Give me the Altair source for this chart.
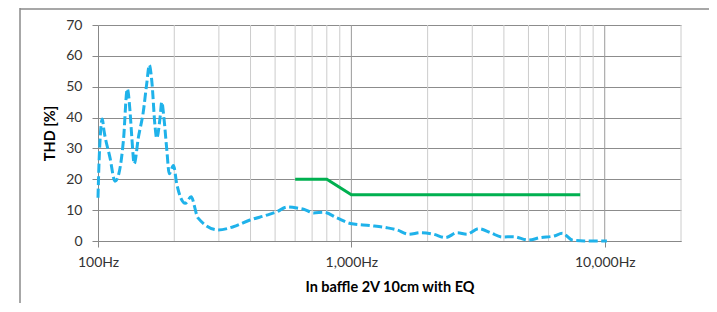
import altair as alt
import pandas as pd

# ---- data ----
blue_freq = [100, 101, 104, 105.5, 111.5, 116.7, 121, 126, 130.5, 133.8, 136, 139, 144.3,
             151, 155.7, 159.5, 163, 168, 170.5, 175.8, 178.5, 182, 187, 191, 198.5, 204.6,
             221, 233, 248, 298, 342, 398, 464, 509, 557, 610, 648, 710, 779, 877, 990,
             1190, 1380, 1513, 1684, 1880, 2110, 2354, 2620, 2853, 3180, 3540, 3940, 4360,
             5000, 5560, 6300, 6800, 7450, 8300, 10200]
blue_thd = [14, 26, 39.5, 36, 27, 19.4, 22, 32.6, 49.3, 42, 33.5, 25, 33.5,
            42, 51, 57, 52, 37, 33.3, 40, 45, 40, 29.3, 21.8, 24.5, 18.5,
            12.2, 14.3, 7.5, 3.6, 4.6, 6.8, 8.4, 9.5, 11, 10.7, 10.3, 9.1, 9.3, 7.5, 5.7,
            5, 4.3, 3.6, 2.2, 2.7, 2.2, 1.1, 2.7, 2.2, 4.0, 2.7, 1.3, 1.4,
            0.3, 1.1, 1.6, 2.5, 0.3, 0, 0]

green_freq = [600, 800, 1000, 8000]
green_thd = [20, 20, 15, 15]

minor_grid = [200, 300, 400, 500, 600, 700, 800, 900,
              2000, 3000, 4000, 5000, 6000, 7000, 8000, 9000, 20000]
major_grid = [1000, 10000]
x_tick_values = [100, 1000, 10000]
y_tick_values = [0, 10, 20, 30, 40, 50, 60, 70]

x_title = "In baffle 2V 10cm with EQ"
y_title = "THD [%]"

FONT = "Lato"
W, H = 583, 216

xscale = alt.Scale(type="log", domain=[100, 20000], nice=False)
yscale = alt.Scale(domain=[0, 70], nice=False)

xaxis = alt.Axis(values=x_tick_values, labelExpr="format(datum.value, ',') + 'Hz'",
                 grid=False, tickSize=6, tickColor="#888888", domainColor="#888888",
                 labelPadding=8, labelFlush=False, labelFont=FONT, labelFontSize=14,
                 labelColor="#333333", title=x_title, titleFont=FONT, titleFontSize=14.5,
                 titleFontWeight="bold", titleColor="#000000", titleX=W / 2, titleY=46,
                 titleBaseline="middle", titleAlign="center")
yaxis = alt.Axis(values=y_tick_values, grid=True, gridColor="#8c8c8c", gridWidth=1,
                 tickSize=6, tickColor="#888888", domainColor="#888888", labelPadding=10,
                 labelFont=FONT, labelFontSize=14, labelColor="#333333", title=y_title,
                 titleFont=FONT, titleFontSize=14.5, titleFontWeight="bold",
                 titleColor="#000000", titleX=-48, titleY=H / 2, titleAngle=-90,
                 titleBaseline="middle", titleAlign="center")

blue_df = pd.DataFrame({"f": blue_freq, "thd": blue_thd})
green_df = pd.DataFrame({"f": green_freq, "thd": green_thd})

minor = alt.Chart(pd.DataFrame({"f": minor_grid})).mark_rule(
    color="#cccccc", strokeWidth=1).encode(x=alt.X("f:Q", scale=xscale, axis=xaxis))
major = alt.Chart(pd.DataFrame({"f": major_grid})).mark_rule(
    color="#9a9a9a", strokeWidth=1).encode(x=alt.X("f:Q", scale=xscale, axis=xaxis))

green = alt.Chart(green_df).mark_line(color="#00b050", strokeWidth=3).encode(
    x=alt.X("f:Q", scale=xscale, axis=xaxis),
    y=alt.Y("thd:Q", scale=yscale, axis=yaxis))

blue = alt.Chart(blue_df).mark_line(color="#1fb2ea", strokeWidth=3, strokeDash=[9, 3.5],
                                    interpolate="monotone").encode(
    x=alt.X("f:Q", scale=xscale, axis=xaxis),
    y=alt.Y("thd:Q", scale=yscale, axis=yaxis))

one = pd.DataFrame({"k": [0]})
frame_left = alt.Chart(one).mark_rule(color="#8a8a8a", strokeWidth=1.5).encode(
    x=alt.value(-78), y=alt.value(-17), y2=alt.value(290))
frame_top = alt.Chart(one).mark_rule(color="#8a8a8a", strokeWidth=1.5).encode(
    x=alt.value(-78), x2=alt.value(625), y=alt.value(-16))

chart = alt.layer(minor, major, green, blue, frame_left, frame_top).properties(
    width=W, height=H,
    autosize=alt.AutoSizeParams(type="none"),
    padding={"left": 90, "top": 17, "right": 28, "bottom": 62},
    background="white",
).configure_view(stroke=None)

chart.save("out.html", embed_options={"renderer": "svg", "actions": False})
